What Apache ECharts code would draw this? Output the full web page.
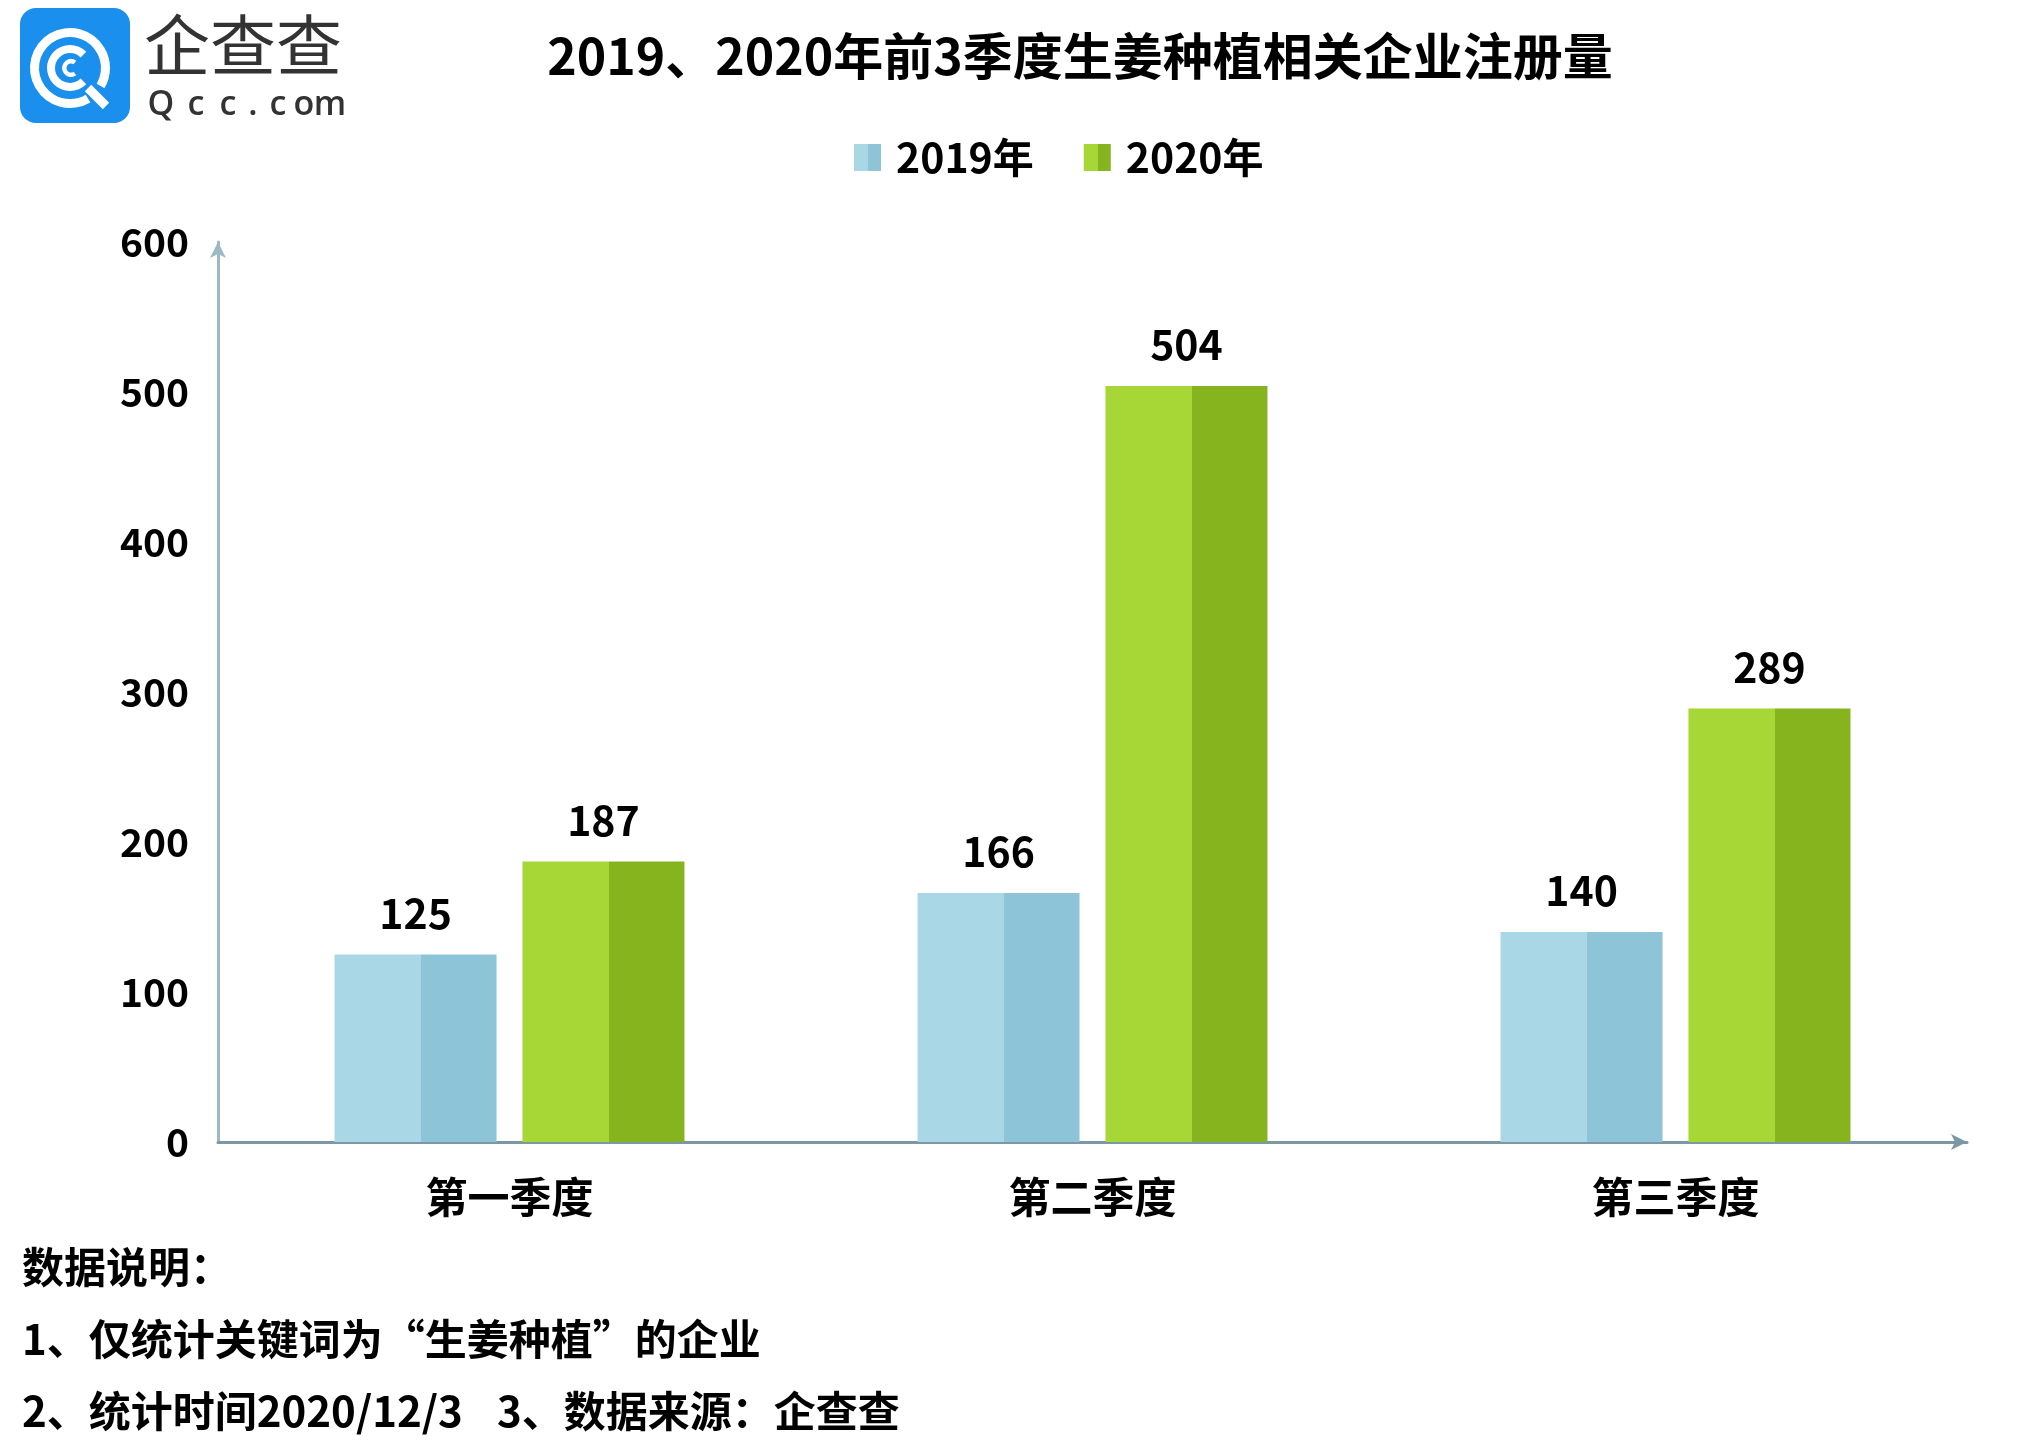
<!DOCTYPE html>
<html>
<head>
<meta charset="utf-8">
<script src="https://cdn.jsdelivr.net/npm/echarts@6/dist/echarts.min.js"></script>
<style>
html,body{margin:0;padding:0;background:#fff;}
#main{width:2033px;height:1455px;}
</style>
</head>
<body>
<div id="main"></div>
<script>
// ---- data ----
const categories = ['第一季度', '第二季度', '第三季度'];
const seriesNames = ['2019年', '2020年'];
const values2019 = [125, 166, 140];
const values2020 = [187, 504, 289];
const yTicks = [0, 100, 200, 300, 400, 500, 600];
const titleText = '2019、2020年前3季度生姜种植相关企业注册量';
const noteLines = ['数据说明：', '1、仅统计关键词为“生姜种植”的企业', '2、统计时间2020/12/3', '3、数据来源：企查查'];

const FONT = '"Noto Sans CJK SC", "Noto Sans", sans-serif';

function twoTone(light, dark) {
  return new echarts.graphic.LinearGradient(0, 0, 1, 0, [
    {offset: 0, color: light},
    {offset: 0.535, color: light},
    {offset: 0.535, color: dark},
    {offset: 1, color: dark}
  ]);
}

const chart = echarts.init(document.getElementById('main'));

const qccLetters = ['Q', 'c', 'c', '.', 'c', 'o', 'm'];
const qccX = [161, 196, 228, 253, 278, 304, 330];

const graphics = [
  // logo
  {type: 'rect', shape: {x: 20, y: 8, width: 110, height: 115, r: 16}, style: {fill: '#1A8FEE'}},
  {type: 'sector', shape: {cx: 70, cy: 68, r: 40, r0: 31, startAngle: Math.PI * 0.33, endAngle: Math.PI * 2.17, clockwise: true}, style: {fill: '#fff'}},
  {type: 'line', shape: {x1: 88, y1: 88, x2: 106, y2: 106}, style: {stroke: '#fff', lineWidth: 9}},
  {type: 'sector', shape: {cx: 70, cy: 68, r: 23, r0: 15, startAngle: Math.PI * 0.25, endAngle: Math.PI * 1.75, clockwise: true}, style: {fill: '#fff'}},
  {type: 'sector', shape: {cx: 71, cy: 68, r: 9, r0: 4.5, startAngle: Math.PI * 0.3, endAngle: Math.PI * 1.7, clockwise: true}, style: {fill: '#fff'}},
  {type: 'text', left: 144, top: 12, style: {text: '企查查', font: 'normal 66px ' + FONT, fill: '#333'}}
];
qccLetters.forEach((ch, i) => {
  graphics.push({type: 'text', x: qccX[i], y: 105, style: {text: ch, font: '600 34px "Open Sans", sans-serif', fill: '#333', align: 'center', verticalAlign: 'middle'}});
});
// notes
graphics.push({type: 'text', x: 22, y: 1267, style: {text: noteLines[0], font: 'bold 42px ' + FONT, fill: '#000', verticalAlign: 'middle'}});
graphics.push({type: 'text', x: 22, y: 1339, style: {text: noteLines[1], font: 'bold 42px ' + FONT, fill: '#000', verticalAlign: 'middle'}});
graphics.push({type: 'text', x: 22, y: 1411, style: {text: noteLines[2], font: 'bold 42px ' + FONT, fill: '#000', verticalAlign: 'middle'}});
graphics.push({type: 'text', x: 497, y: 1411, style: {text: noteLines[3], font: 'bold 42px ' + FONT, fill: '#000', verticalAlign: 'middle'}});

const option = {
  backgroundColor: '#ffffff',
  animation: false,
  title: {
    text: titleText,
    left: 1075, top: 51, textAlign: 'center', textVerticalAlign: 'middle',
    textStyle: {fontFamily: FONT, fontWeight: 'bold', fontSize: 50, color: '#000'}
  },
  legend: {
    data: seriesNames,
    left: 849, top: 132,
    itemWidth: 27, itemHeight: 27, itemGap: 50,
    icon: 'rect',
    textStyle: {fontFamily: FONT, fontWeight: 'bold', fontSize: 41, color: '#000', padding: [0, 0, 0, 10]}
  },
  grid: {left: 218, right: 66, top: 242, bottom: 313, containLabel: false},
  xAxis: {
    type: 'category',
    data: categories,
    axisLine: {show: true, symbol: ['none', 'arrow'], symbolSize: [12, 16], lineStyle: {color: '#7B98A4', width: 3}},
    axisTick: {show: false},
    axisLabel: {fontFamily: FONT, fontWeight: 'bold', fontSize: 42, color: '#000', margin: 34}
  },
  yAxis: {
    type: 'value',
    min: yTicks[0], max: yTicks[yTicks.length - 1], interval: 100,
    axisLine: {show: true, symbol: ['none', 'arrow'], symbolSize: [12, 16], lineStyle: {color: '#9BBAC5', width: 3}},
    axisTick: {show: false},
    splitLine: {show: false},
    axisLabel: {fontFamily: FONT, fontWeight: 'bold', fontSize: 39, color: '#000', margin: 29}
  },
  series: [
    {
      name: seriesNames[0], type: 'bar', data: values2019,
      barWidth: 162, barGap: '16%',
      itemStyle: {color: twoTone('#AAD7E5', '#8EC4D8')},
      label: {show: true, position: 'top', distance: 21, fontFamily: FONT, fontWeight: 'bold', fontSize: 41, color: '#000'}
    },
    {
      name: seriesNames[1], type: 'bar', data: values2020,
      barWidth: 162, barGap: '16%',
      itemStyle: {color: twoTone('#A7D637', '#85B41E')},
      label: {show: true, position: 'top', distance: 21, fontFamily: FONT, fontWeight: 'bold', fontSize: 41, color: '#000'}
    }
  ],
  graphic: graphics
};
chart.setOption(option);
</script>
</body>
</html>
